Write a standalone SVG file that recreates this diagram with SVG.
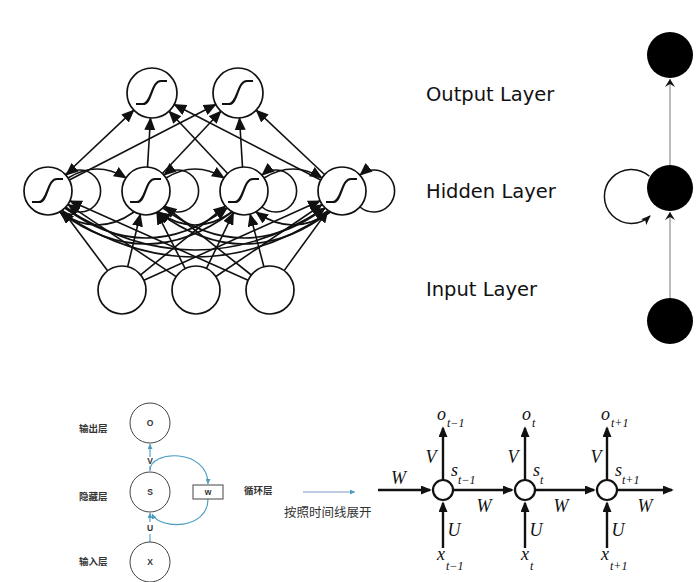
<svg xmlns="http://www.w3.org/2000/svg" width="700" height="582" viewBox="0 0 700 582">
<defs>
<style>
.nn{fill:#fff;stroke:#111;stroke-width:1.7}
.cn{fill:none;stroke:#111;stroke-width:1.6}
.sig{fill:none;stroke:#111;stroke-width:2.2}
.lbl{font-family:"DejaVu Sans",sans-serif;font-size:19.5px;fill:#111}
.gl{stroke:#999;stroke-width:1.3;fill:none}
.cnl{font-family:"Noto Sans CJK SC",sans-serif;font-size:9.5px;fill:#333;font-weight:bold}
.sl{font-family:"Liberation Sans",sans-serif;font-size:8.5px;fill:#333;font-weight:bold;text-anchor:middle}
.bc{fill:#fff;stroke:#444;stroke-width:1}
.bl{stroke:#4a9cc0;stroke-width:1.1;fill:none}
.it{font-family:"Liberation Serif",serif;font-style:italic;fill:#111;font-size:18px}
.sub{font-size:12px}
.ra{stroke:#111;stroke-width:2.4;fill:none}
</style>
<marker id="ah" viewBox="0 0 13 11" refX="12" refY="5.5" markerWidth="13" markerHeight="11" markerUnits="userSpaceOnUse" orient="auto"><path d="M0,0 L13,5.5 L0,11 z" fill="#111"/></marker>
<marker id="lah" viewBox="0 0 10 8" refX="9" refY="4" markerWidth="10" markerHeight="8" markerUnits="userSpaceOnUse" orient="auto"><path d="M0,0 L10,4 L0,8 L2.5,4 z" fill="#111"/></marker>
<marker id="chev" viewBox="0 0 8 10" refX="8" refY="5" markerWidth="8" markerHeight="10" markerUnits="userSpaceOnUse" orient="auto"><path d="M0,0 L8,5 L0,10 L3,5 z" fill="#111"/></marker>
<marker id="bah" viewBox="0 0 6 6" refX="6" refY="3" markerWidth="5" markerHeight="5" markerUnits="userSpaceOnUse" orient="auto"><path d="M0,0 L6,3 L0,6 z" fill="#4a9cc0"/></marker>
<marker id="rah" viewBox="0 0 12 10" refX="10" refY="5" markerWidth="12" markerHeight="9" markerUnits="userSpaceOnUse" orient="auto"><path d="M0,0 L12,5 L0,10 z" fill="#111"/></marker>
<path id="sg" d="M-16,11 H-9 C0,11 -1,-12 9,-12 H15"/>
</defs>

<!-- connectors -->
<g id="connectors">
  <!-- hidden to output -->
  <g class="cn" marker-end="url(#ah)">
    <line x1="65.5" y1="174.5" x2="133.8" y2="110.2"/>
    <line x1="69.3" y1="180" x2="215.8" y2="104.5"/>
    <line x1="147.5" y1="167" x2="150.5" y2="118"/>
    <line x1="162.4" y1="173.5" x2="220.9" y2="111.2"/>
    <line x1="227.6" y1="173.5" x2="169.1" y2="111.2"/>
    <line x1="242.5" y1="167" x2="239.5" y2="118"/>
    <line x1="320.7" y1="180" x2="174.2" y2="104.5"/>
    <line x1="324.5" y1="174.5" x2="256.2" y2="110.2"/>
  </g>
  <!-- input to hidden -->
  <g class="cn" marker-end="url(#ah)">
    <line x1="107.6" y1="270.8" x2="62.4" y2="210.2"/>
    <line x1="127.7" y1="266.7" x2="140.3" y2="214.3"/>
    <line x1="140.6" y1="274.9" x2="225.4" y2="206.1"/>
    <line x1="143.9" y1="280.2" x2="320.1" y2="200.8"/>
    <line x1="176.1" y1="276.7" x2="67.9" y2="204.3"/>
    <line x1="185.2" y1="268.6" x2="156.8" y2="212.4"/>
    <line x1="206.5" y1="268.4" x2="233.5" y2="212.6"/>
    <line x1="215.9" y1="276.5" x2="322.1" y2="204.5"/>
    <line x1="248.1" y1="280.2" x2="69.9" y2="200.8"/>
    <line x1="251.3" y1="275" x2="164.7" y2="206"/>
    <line x1="263.9" y1="266.8" x2="250.1" y2="214.2"/>
    <line x1="284.1" y1="270.6" x2="327.9" y2="210.4"/>
  </g>
  <!-- hidden recurrent: self loops -->
  <g class="cn" marker-end="url(#ah)">
    <path d="M66,207 A21,21 0 1,0 66,175"/>
    <path d="M164,207 A21,21 0 1,0 164,175"/>
    <path d="M262,207 A21,21 0 1,0 262,175"/>
    <path d="M360,207 A21,21 0 1,0 360,175"/>
  </g>
  <!-- hidden recurrent: top arcs -->
  <g class="cn" marker-end="url(#ah)">
    <path d="M68,178 Q97,160 126,178"/>
    <path d="M166,178 Q195,160 224,178"/>
    <path d="M264,178 Q293,160 322,178"/>
  </g>
  <!-- hidden recurrent: bottom arcs -->
  <g class="cn" marker-end="url(#ah)">
    <path d="M65,208 Q146,268 227,208"/>
    <path d="M65,208 Q195,292 325,208"/>
    <path d="M163,208 Q244,268 325,208"/>
    <path d="M134,212 Q97,238 60,212"/>
    <path d="M232,212 Q195,238 158,212"/>
    <path d="M330,212 Q293,238 256,212"/>
    <path d="M232,212 Q146,276 60,212"/>
    <path d="M330,212 Q195,302 60,212"/>
    <path d="M330,212 Q244,276 158,212"/>
  </g>
  <!-- right column -->
  <line class="gl" x1="670" y1="298" x2="670" y2="212" marker-end="url(#chev)"/>
  <line class="gl" x1="670" y1="165" x2="670" y2="79" marker-end="url(#chev)"/>
  <path d="M649.4,176.3 A27,27 0 1,0 650,216" fill="none" stroke="#111" stroke-width="1.5" marker-end="url(#lah)"/>
  <!-- small rnn -->
  <line class="bl" x1="150" y1="457" x2="150" y2="444" marker-end="url(#bah)"/>
  <line class="bl" x1="150" y1="471" x2="150" y2="466"/>
  <line class="bl" x1="150" y1="542" x2="150" y2="534"/>
  <line class="bl" x1="150" y1="522" x2="150" y2="513" marker-end="url(#bah)"/>
  <path class="bl" d="M150,470 C150,450 208,448 208,484" marker-end="url(#bah)"/>
  <path class="bl" d="M208,499 C208,530 160,530 152,514" marker-end="url(#bah)"/>
  <line x1="303" y1="492" x2="355" y2="492" stroke="#5b7fb5" stroke-width="0.8" marker-end="url(#bah)"/>
  <!-- unrolled rnn -->
  <g class="ra" marker-end="url(#rah)">
    <line x1="378" y1="490" x2="430" y2="490"/>
    <line x1="454" y1="490" x2="512" y2="490"/>
    <line x1="536" y1="490" x2="594" y2="490"/>
    <line x1="618" y1="490" x2="672" y2="490"/>
    <line x1="443" y1="480" x2="443" y2="428"/>
    <line x1="525" y1="480" x2="525" y2="428"/>
    <line x1="607" y1="480" x2="607" y2="428"/>
    <line x1="443" y1="548" x2="443" y2="503"/>
    <line x1="525" y1="548" x2="525" y2="503"/>
    <line x1="607" y1="548" x2="607" y2="503"/>
  </g>
</g>

<!-- left network nodes -->
<g id="out1"><circle class="nn" cx="152" cy="93" r="25"/><use href="#sg" class="sig" x="152" y="93"/></g>
<g id="out2"><circle class="nn" cx="238" cy="93" r="25"/><use href="#sg" class="sig" x="238" y="93"/></g>
<g id="hid1"><circle class="nn" cx="48" cy="191" r="24"/><use href="#sg" class="sig" x="48" y="191"/></g>
<g id="hid2"><circle class="nn" cx="146" cy="191" r="24"/><use href="#sg" class="sig" x="146" y="191"/></g>
<g id="hid3"><circle class="nn" cx="244" cy="191" r="24"/><use href="#sg" class="sig" x="244" y="191"/></g>
<g id="hid4"><circle class="nn" cx="342" cy="191" r="24"/><use href="#sg" class="sig" x="342" y="191"/></g>
<g id="in1"><circle class="nn" cx="122" cy="290" r="24"/></g>
<g id="in2"><circle class="nn" cx="196" cy="290" r="24"/></g>
<g id="in3"><circle class="nn" cx="270" cy="290" r="24"/></g>

<!-- layer labels -->
<g id="labels">
  <text class="lbl" x="426" y="101">Output Layer</text>
  <text class="lbl" x="426" y="198">Hidden Layer</text>
  <text class="lbl" x="426" y="296">Input Layer</text>
</g>

<!-- right column nodes -->
<g id="r-out"><circle cx="670" cy="55" r="23" fill="#000"/></g>
<g id="r-hid"><circle cx="670" cy="188" r="23" fill="#000"/></g>
<g id="r-in"><circle cx="670" cy="321" r="23" fill="#000"/></g>

<!-- small rnn nodes -->
<g id="s-o"><circle class="bc" cx="150" cy="423" r="20"/><text class="sl" x="150" y="426">O</text></g>
<g id="s-s"><circle class="bc" cx="150" cy="492" r="20"/><text class="sl" x="150" y="495">S</text></g>
<g id="s-x"><circle class="bc" cx="150" cy="562" r="20"/><text class="sl" x="150" y="565">X</text></g>
<g id="s-w"><rect x="193" y="485" width="30" height="14" fill="#fff" stroke="#444" stroke-width="1"/><text class="sl" x="208" y="495">w</text></g>
<g id="s-labels">
  <text class="sl" x="150" y="464">V</text>
  <text class="sl" x="150" y="531">U</text>
  <text class="cnl" x="79" y="432">输出层</text>
  <text class="cnl" x="79" y="500">隐藏层</text>
  <text class="cnl" x="79" y="565">输入层</text>
  <text class="cnl" x="244" y="494">循环层</text>
  <text x="284" y="517" font-family="'Noto Sans CJK SC',sans-serif" font-size="12.5" fill="#333">按照时间线展开</text>
</g>

<!-- unrolled rnn nodes -->
<g id="u1"><circle cx="443" cy="490" r="10" fill="#fff" stroke="#111" stroke-width="2.2"/></g>
<g id="u2"><circle cx="525" cy="490" r="10" fill="#fff" stroke="#111" stroke-width="2.2"/></g>
<g id="u3"><circle cx="607" cy="490" r="10" fill="#fff" stroke="#111" stroke-width="2.2"/></g>
<g id="u-labels" class="it">
  <text x="391" y="484">W</text>
  <text x="484" y="512" text-anchor="middle">W</text>
  <text x="561" y="512" text-anchor="middle">W</text>
  <text x="645" y="512" text-anchor="middle">W</text>
  <text x="431" y="463" text-anchor="middle">V</text>
  <text x="513" y="463" text-anchor="middle">V</text>
  <text x="596" y="463" text-anchor="middle">V</text>
  <text x="454" y="536" text-anchor="middle">U</text>
  <text x="536" y="536" text-anchor="middle">U</text>
  <text x="618" y="536" text-anchor="middle">U</text>
  <text x="437" y="420">o<tspan class="sub" dx="1" dy="7">t−1</tspan></text>
  <text x="522" y="420">o<tspan class="sub" dx="1" dy="7">t</tspan></text>
  <text x="601" y="420">o<tspan class="sub" dx="1" dy="7">t+1</tspan></text>
  <text x="451" y="476">s<tspan class="sub" dx="0" dy="8">t−1</tspan></text>
  <text x="533" y="476">s<tspan class="sub" dx="0" dy="8">t</tspan></text>
  <text x="615" y="476">s<tspan class="sub" dx="0" dy="8">t+1</tspan></text>
  <text x="437" y="560">x<tspan class="sub" dx="1" dy="10">t−1</tspan></text>
  <text x="521" y="560">x<tspan class="sub" dx="1" dy="10">t</tspan></text>
  <text x="601" y="560">x<tspan class="sub" dx="1" dy="10">t+1</tspan></text>
</g>
</svg>
